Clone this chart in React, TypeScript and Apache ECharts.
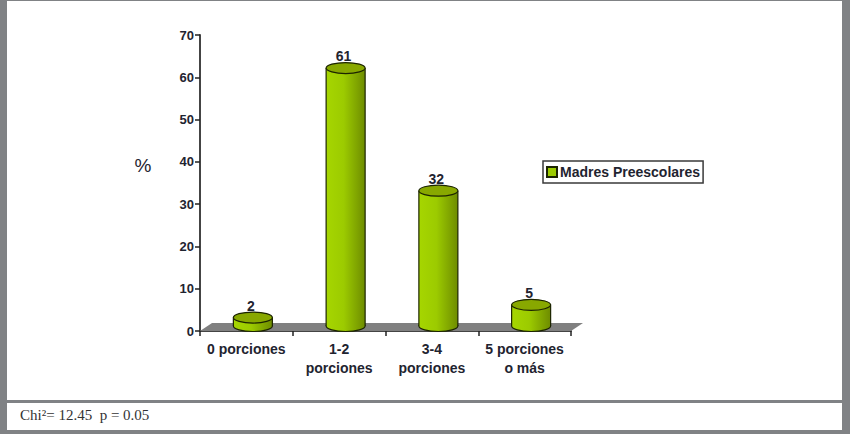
import React, { useEffect, useRef } from "react";
import * as echarts from "echarts";

const categories = ["0 porciones", "1-2\nporciones", "3-4\nporciones", "5 porciones\no más"];
const values = [2, 61, 32, 5];
const seriesName = "Madres Preescolares";
const yTicks = { min: 0, max: 70, interval: 10 };
const yTitle = "%";
const footnote = "Chi²= 12.45  p = 0.05";

const FONT = "'Liberation Sans', Arial, sans-serif";
const INK = "#1f2430";

function renderFloor(params: any, api: any) {
  if (params.dataIndex !== 0) return null;
  const band = api.size([1, 0])[0];
  const a = api.coord([0, 0]);
  const b = api.coord([categories.length - 1, 0]);
  const x0 = a[0] - band / 2;
  const x1 = b[0] + band / 2;
  const y = a[1];
  return {
    type: "polygon",
    shape: { points: [[x0, y], [x0 + 12, y - 8], [x1 + 12, y - 8], [x1, y]] },
    style: { fill: "#808080" },
  };
}

function renderCylinder(params: any, api: any) {
  const idx = api.value(0);
  const val = api.value(1);
  const base = api.coord([idx, 0]);
  const top = api.coord([idx, val]);
  const cx = base[0] + 6.5;
  const rx = 19.5;
  const ry = 5.5;
  const yBase = base[1] - 5;
  const yTop = top[1] - 5;
  const grad = new echarts.graphic.LinearGradient(0, 0, 1, 0, [
    { offset: 0, color: "#a6d600" },
    { offset: 0.45, color: "#9ccb00" },
    { offset: 1, color: "#6e8c00" },
  ]);
  const stroke = "#1c2400";
  return {
    type: "group",
    children: [
      {
        type: "ellipse",
        shape: { cx, cy: yBase, rx, ry },
        style: { fill: grad, stroke, lineWidth: 1.2 },
      },
      {
        type: "rect",
        shape: { x: cx - rx, y: yTop, width: rx * 2, height: yBase - yTop },
        style: { fill: grad },
      },
      {
        type: "line",
        shape: { x1: cx - rx, y1: yTop, x2: cx - rx, y2: yBase },
        style: { stroke, lineWidth: 1.2 },
      },
      {
        type: "line",
        shape: { x1: cx + rx, y1: yTop, x2: cx + rx, y2: yBase },
        style: { stroke, lineWidth: 1.2 },
      },
      {
        type: "ellipse",
        shape: { cx, cy: yTop, rx, ry },
        style: { fill: "#88a800", stroke, lineWidth: 1.2 },
      },
      {
        type: "text",
        style: {
          x: cx - 2,
          y: yTop - 12,
          text: String(val),
          fill: INK,
          font: `bold 14px ${FONT}`,
          align: "center",
          verticalAlign: "middle",
        },
      },
    ],
  };
}

export default function App() {
  const ref = useRef<HTMLDivElement>(null);
  useEffect(() => {
    document.body.style.margin = "0";
    const chart = echarts.init(ref.current!, undefined, { renderer: "svg" });
    chart.setOption({
      animation: false,
      backgroundColor: "#808285",
      textStyle: { fontFamily: FONT },
      grid: { left: 200, top: 35, width: 371, height: 296, containLabel: false },
      legend: {
        data: [seriesName],
        left: 543,
        top: 161,
        orient: "vertical",
        padding: [4, 3, 4, 3],
        itemWidth: 10,
        itemHeight: 10,
        itemGap: 0,
        icon: "rect",
        backgroundColor: "#ffffff",
        borderColor: "#3a3a3a",
        borderWidth: 1.5,
        borderRadius: 0,
        selectedMode: false,
        textStyle: { fontFamily: FONT, fontSize: 14, fontWeight: "bold", color: INK, padding: [0, 0, 0, -2] },
      },
      xAxis: {
        type: "category",
        data: categories,
        axisLine: { lineStyle: { color: "#444444", width: 2 } },
        axisTick: { show: true, length: 5, alignWithLabel: false, lineStyle: { color: "#222222", width: 1.5 } },
        axisLabel: {
          interval: 0,
          margin: 8,
          color: INK,
          fontFamily: FONT,
          fontSize: 14,
          fontWeight: "bold",
          lineHeight: 19,
        },
      },
      yAxis: {
        type: "value",
        min: yTicks.min,
        max: yTicks.max,
        interval: yTicks.interval,
        splitLine: { show: false },
        axisLine: { show: true, lineStyle: { color: "#444444", width: 2 } },
        axisTick: { show: true, length: 5, lineStyle: { color: "#222222", width: 1.5 } },
        axisLabel: { margin: 6, color: INK, fontFamily: FONT, fontSize: 13, fontWeight: "bold" },
      },
      graphic: [
        { type: "rect", z: -1, shape: { x: 7, y: 1, width: 835, height: 399 }, style: { fill: "#ffffff" } },
        { type: "rect", z: -1, shape: { x: 7, y: 403, width: 835, height: 27 }, style: { fill: "#ffffff" } },
        {
          type: "text",
          z: 1,
          x: 143,
          y: 165,
          style: {
            text: yTitle,
            fill: INK,
            font: `19px ${FONT}`,
            align: "center",
            verticalAlign: "middle",
          },
        },
        {
          type: "text",
          z: 1,
          x: 20,
          y: 415,
          style: {
            text: footnote,
            fill: "#333333",
            font: "15px 'Liberation Serif', 'Times New Roman', serif",
            verticalAlign: "middle",
          },
        },
      ],
      series: [
        {
          type: "custom",
          name: "floor",
          renderItem: renderFloor,
          data: categories.map((_, i) => [i, 0]),
          encode: { x: 0, y: 1 },
          silent: true,
          z: 1,
        },
        {
          type: "custom",
          name: seriesName,
          renderItem: renderCylinder,
          data: values.map((v, i) => [i, v]),
          encode: { x: 0, y: 1 },
          itemStyle: { color: "#9ccb00", borderColor: "#1c2400", borderWidth: 1.5 },
          z: 3,
        },
      ],
    });
    return () => chart.dispose();
  }, []);
  return <div ref={ref} style={{ width: 850, height: 434 }} />;
}
